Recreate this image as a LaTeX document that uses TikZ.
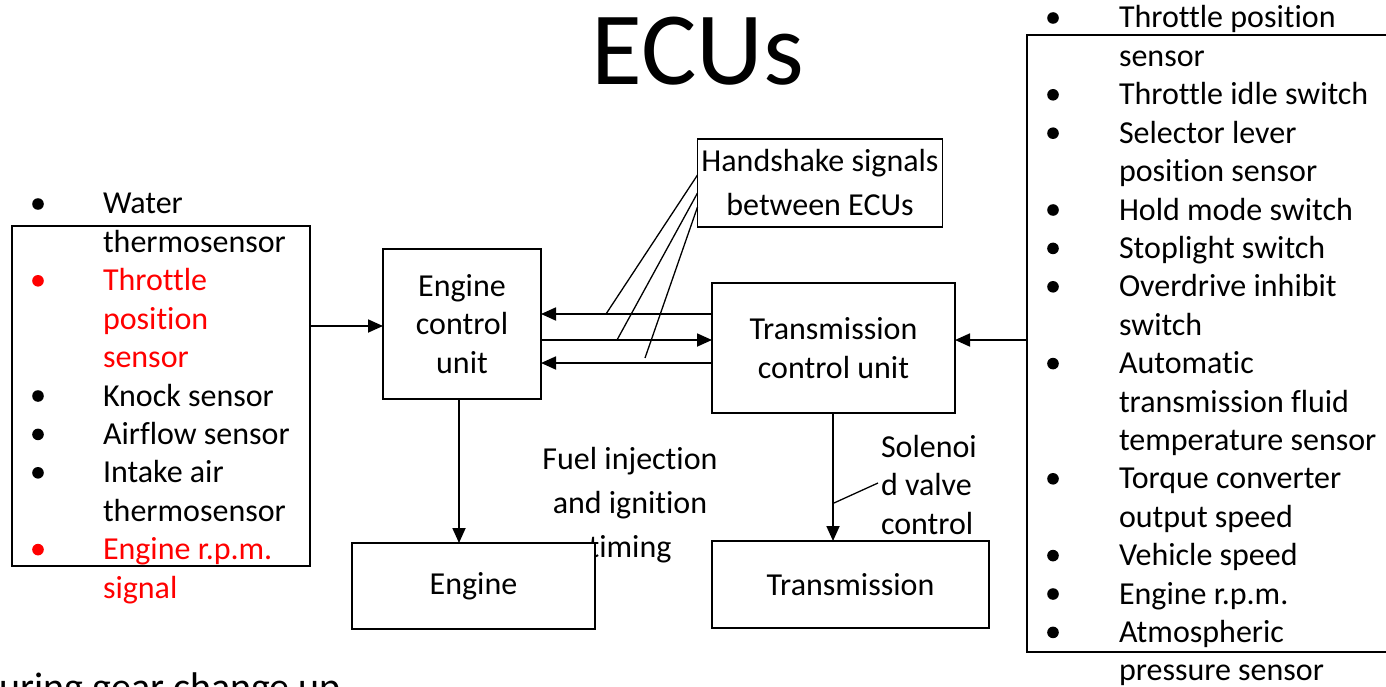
\documentclass[tikz,border=0pt]{standalone}
\usepackage{fontspec}
\setmainfont{Carlito}[Ligatures={NoCommon}]
\usetikzlibrary{arrows.meta}
\begin{document}
\begin{tikzpicture}[x=1pt,y=-1pt,
  every node/.style={font=\fontsize{32}{38.4}\selectfont, inner sep=0pt, outer sep=0pt},
  box/.style={draw, line width=1.8pt, fill=white, align=center},
  frame/.style={draw, line width=1.8pt},
  arr/.style={-{Triangle[length=15pt,width=13pt]}, line width=1.8pt},
  lead/.style={line width=1.3pt},
  item/.style={anchor=base west},
  redtext/.style={anchor=base west, text=red},
  dot/.style={fill=black},
  reddot/.style={fill=red}]
\useasboundingbox (0,0) rectangle (1386,687);
\clip (0,0) rectangle (1386,687);

% title
\node[anchor=base, font=\fontsize{104}{120}\selectfont] (title) at (698,85) {ECUs};

% left sensor list
\node[frame, minimum width=298pt, minimum height=340pt] (lbox) at (161,396) {};
\foreach \k/\txt in {0/Water,1/thermosensor,5/Knock sensor,6/Airflow sensor,7/Intake air,8/thermosensor}
  \node[item] (l\k) at (103,214+38.4*\k) {\txt};
\foreach \k/\txt in {2/Throttle,3/position,4/sensor,9/Engine r.p.m.,10/signal}
  \node[redtext] (l\k) at (103,214+38.4*\k) {\txt};
\foreach \k in {0,5,6,7}
  \fill[dot] (38,204+38.4*\k) circle (5.8pt);
\foreach \k in {2,9}
  \fill[reddot] (38,204+38.4*\k) circle (5.8pt);

% right sensor list
\node[frame, minimum width=400pt, minimum height=617pt] (rbox) at (1227,343.5) {};
\foreach \k/\txt in {0/Throttle position,1/sensor,2/Throttle idle switch,3/Selector lever,4/position sensor,5/Hold mode switch,6/Stoplight switch,7/Overdrive inhibit,8/switch,9/Automatic,10/transmission fluid,11/temperature sensor,12/Torque converter,13/output speed,14/Vehicle speed,15/Engine r.p.m.,16/Atmospheric,17/pressure sensor}
  \node[item] (r\k) at (1119,28+38.4*\k) {\txt};
\foreach \k in {0,2,3,5,6,7,9,12,14,15,16}
  \fill[dot] (1053,18+38.4*\k) circle (5.8pt);

% control units
\node[box, minimum width=158pt, minimum height=150pt] (ecu) at (462,324) {Engine\\control\\unit};
\node[box, minimum width=243pt, minimum height=130pt] (tcu) at (833.5,348) {Transmission\\control unit};
\node[box, minimum width=245pt, minimum height=88pt, font=\fontsize{32}{44}\selectfont] (hs) at (820,183) {Handshake signals\\between ECUs};

% labels
\node[align=center, font=\fontsize{32}{44}\selectfont] (fuel) at (630,505) {Fuel injection\\and ignition\\timing};
\node[anchor=west, align=left] (sol) at (881,485) {Solenoi\\d valve\\control};

% outputs
\node[box, minimum width=243pt, minimum height=86pt] (eng) at (473.5,586) {\raisebox{-2pt}{Engine}};
\node[box, minimum width=277pt, minimum height=87pt] (trans) at (850.5,584.5) {Transmission};

% level coordinates
\coordinate (y1) at (0,314);
\coordinate (y2) at (0,340);
\coordinate (y3) at (0,363);
\coordinate (yin) at (0,326);
\coordinate (xe) at (459,0);
\coordinate (xt) at (833,0);

% connectors
\draw[arr] (lbox.east |- yin) -- (ecu.west |- yin);
\draw[arr] (rbox.west |- y2) -- (tcu.east |- y2);
\draw[arr] (tcu.west |- y1) -- (ecu.east |- y1);
\draw[arr] (ecu.east |- y2) -- (tcu.west |- y2);
\draw[arr] (tcu.west |- y3) -- (ecu.east |- y3);
\draw[arr] (ecu.south -| xe) -- (eng.north -| xe);
\draw[arr] (tcu.south -| xt) -- (trans.north -| xt);

% handshake leaders
\coordinate (h1) at (0,175);
\coordinate (h2) at (0,193);
\coordinate (h3) at (0,207);
\coordinate (t1) at (606,314);
\coordinate (t2) at (617,340);
\coordinate (t3) at (645,358);
\draw[lead] (hs.west |- h1) -- (t1);
\draw[lead] (hs.west |- h2) -- (t2);
\draw[lead] (hs.west |- h3) -- (t3);

% solenoid leader
\coordinate (s1) at (834,503);
\coordinate (s2) at (878,483);
\draw[lead] (s1) -- (s2);

% bottom cut-off text
\node[anchor=base west, font=\fontsize{40}{48}\selectfont] (during) at (-25,700) {During gear change up};
\end{tikzpicture}
\end{document}
